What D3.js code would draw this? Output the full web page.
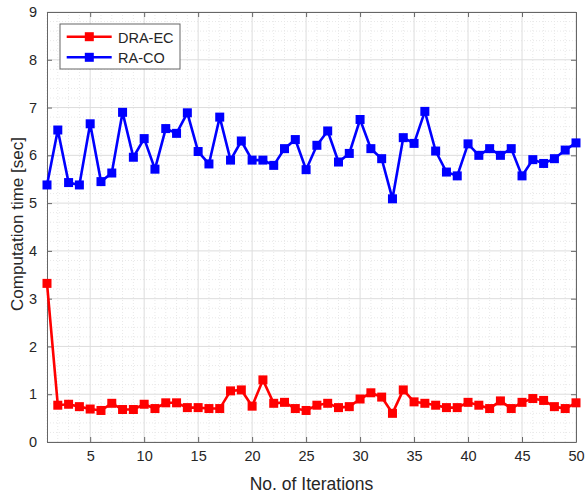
<!DOCTYPE html>
<html>
<head>
<meta charset="utf-8">
<script src="https://cdn.jsdelivr.net/npm/d3@7"></script>
<style>
  body { margin: 0; background: #fff; }
  text { font-family: "Liberation Sans", Arial, sans-serif; fill: #262626; }
</style>
</head>
<body>
<svg id="chart" width="585" height="499"></svg>
<script>
// data
const iterations = d3.range(1, 51);
const draEC = [3.32, 0.77, 0.79, 0.74, 0.69, 0.66, 0.81, 0.68, 0.68, 0.79,
  0.70, 0.82, 0.82, 0.72, 0.72, 0.70, 0.70, 1.07, 1.09, 0.75,
  1.30, 0.81, 0.83, 0.70, 0.66, 0.77, 0.81, 0.72, 0.74, 0.90,
  1.03, 0.94, 0.60, 1.09, 0.84, 0.81, 0.77, 0.72, 0.72, 0.83,
  0.77, 0.70, 0.86, 0.70, 0.83, 0.91, 0.87, 0.74, 0.70, 0.82];
const raCO = [5.38, 6.53, 5.43, 5.38, 6.66, 5.45, 5.63, 6.90, 5.96, 6.35,
  5.71, 6.56, 6.46, 6.89, 6.08, 5.82, 6.80, 5.90, 6.30, 5.90,
  5.90, 5.79, 6.14, 6.33, 5.70, 6.21, 6.51, 5.86, 6.04, 6.75,
  6.14, 5.93, 5.09, 6.37, 6.25, 6.92, 6.09, 5.65, 5.57, 6.24,
  6.00, 6.14, 6.00, 6.14, 5.57, 5.91, 5.83, 5.93, 6.11, 6.26];
const xTicks = [5, 10, 15, 20, 25, 30, 35, 40, 45, 50];
const yTicks = [0, 1, 2, 3, 4, 5, 6, 7, 8, 9];
const seriesNames = ["DRA-EC", "RA-CO"];
const seriesColors = ["#ff0000", "#0000ff"];

const svg = d3.select("#chart");
const margin = {left: 47, top: 12, right: 9, bottom: 57};
const width = 585 - margin.left - margin.right;
const height = 499 - margin.top - margin.bottom;

const x = d3.scaleLinear().domain([1, 50]).range([0, width]);
const y = d3.scaleLinear().domain([0, 9]).range([height, 0]);

const g = svg.append("g").attr("transform", `translate(${margin.left},${margin.top})`);

// minor grid (dotted)
const minorX = d3.range(1, 51).filter(v => v % 5 !== 0);
const minorY = d3.range(0, 9.01, 0.2).filter(v => Math.abs(v - Math.round(v)) > 1e-6);
g.append("g").selectAll("line").data(minorX).join("line")
  .attr("x1", d => x(d)).attr("x2", d => x(d)).attr("y1", 0).attr("y2", height)
  .attr("stroke", "#e8e8e8").attr("stroke-dasharray", "1,2");
g.append("g").selectAll("line").data(minorY).join("line")
  .attr("y1", d => y(d)).attr("y2", d => y(d)).attr("x1", 0).attr("x2", width)
  .attr("stroke", "#e8e8e8").attr("stroke-dasharray", "1,2");

// major grid
g.append("g").selectAll("line").data(xTicks).join("line")
  .attr("x1", d => x(d)).attr("x2", d => x(d)).attr("y1", 0).attr("y2", height)
  .attr("stroke", "#dddddd");
g.append("g").selectAll("line").data(yTicks).join("line")
  .attr("y1", d => y(d)).attr("y2", d => y(d)).attr("x1", 0).attr("x2", width)
  .attr("stroke", "#dddddd");

// axes, MATLAB style ticks pointing inward
g.append("g").attr("transform", `translate(0,${height})`)
  .call(d3.axisBottom(x).tickValues(xTicks).tickSizeInner(-5).tickSizeOuter(0).tickPadding(8.5));
g.append("g")
  .call(d3.axisLeft(y).tickValues(yTicks).tickSizeInner(-5).tickSizeOuter(0).tickPadding(10));
g.append("g")
  .call(d3.axisTop(x).tickValues(xTicks).tickSizeInner(-5).tickSizeOuter(0).tickFormat(""));
g.append("g").attr("transform", `translate(${width},0)`)
  .call(d3.axisRight(y).tickValues(yTicks).tickSizeInner(-5).tickSizeOuter(0).tickFormat(""));
g.selectAll(".domain, .tick line").attr("stroke", "#666");
g.selectAll(".tick text").style("font-size", "14.5px").attr("fill", "#262626");

// lines + markers
const allSeries = [draEC, raCO];
const line = d3.line().x((d, i) => x(iterations[i])).y(d => y(d));
allSeries.forEach((vals, k) => {
  g.append("path").datum(vals)
    .attr("fill", "none").attr("stroke", seriesColors[k]).attr("stroke-width", 2.6)
    .attr("d", line);
  g.append("g").selectAll("rect").data(vals).join("rect")
    .attr("x", (d, i) => x(iterations[i]) - 4.5)
    .attr("y", d => y(d) - 4.5)
    .attr("width", 9).attr("height", 9)
    .attr("fill", seriesColors[k]);
});

// axis labels
svg.append("text").attr("x", margin.left + width / 2).attr("y", 490)
  .attr("text-anchor", "middle").style("font-size", "17.5px").text("No. of Iterations");
svg.append("text").attr("transform", `translate(23,${margin.top + height / 2 - 3}) rotate(-90)`)
  .attr("text-anchor", "middle").style("font-size", "17px").text("Computation time [sec]");

// legend
const lg = g.append("g").attr("transform", "translate(13,12)");
lg.append("rect").attr("width", 120).attr("height", 45)
  .attr("fill", "#fff").attr("stroke", "#666");
seriesNames.forEach((name, k) => {
  const yy = 12.7 + k * 20.6;
  lg.append("line").attr("x1", 6.7).attr("x2", 51.7).attr("y1", yy).attr("y2", yy)
    .attr("stroke", seriesColors[k]).attr("stroke-width", 2.6);
  lg.append("rect").attr("x", 29.3 - 4.5).attr("y", yy - 4.5).attr("width", 9).attr("height", 9)
    .attr("fill", seriesColors[k]);
  lg.append("text").attr("x", 58).attr("y", yy + 6).style("font-size", "14.5px").text(name);
});
</script>
</body>
</html>
